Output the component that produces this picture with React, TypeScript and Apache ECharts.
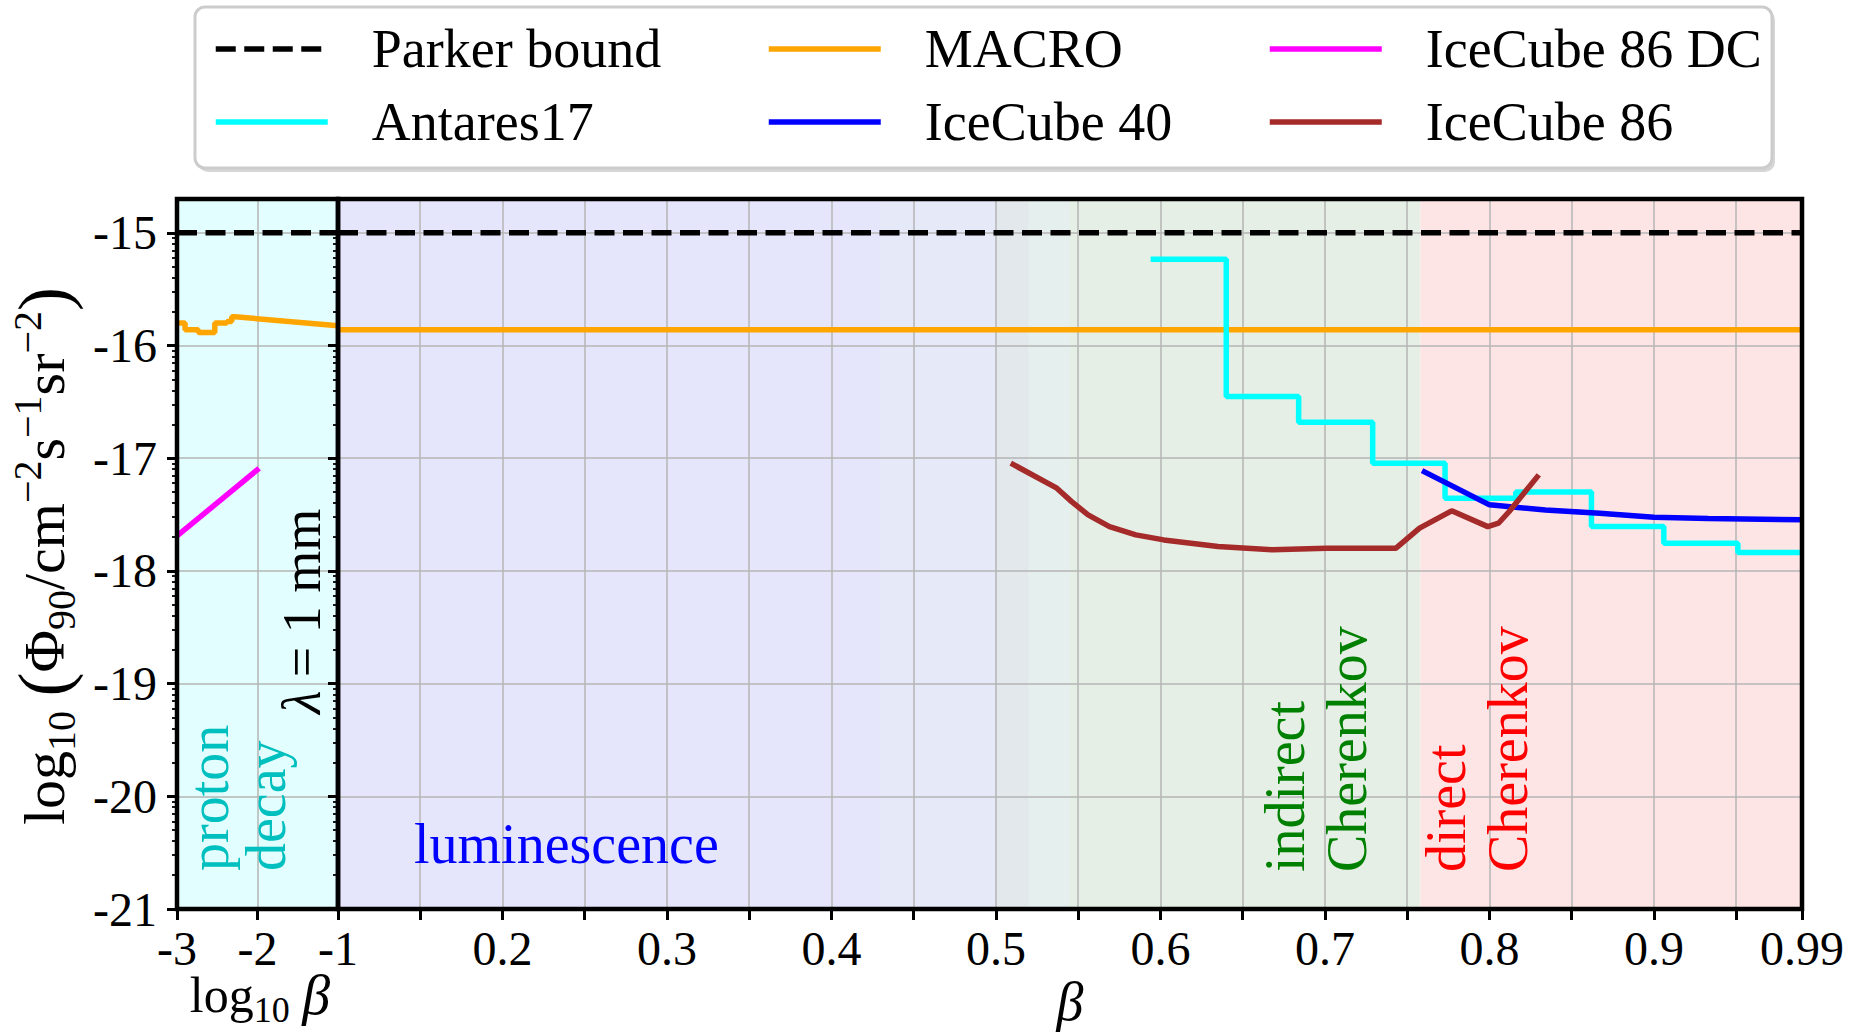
import React, { useEffect, useRef } from 'react';
import * as echarts from 'echarts';

const FONT = 'Liberation Serif';
const FONT_CSS = '#root svg text, #root svg tspan { font-family: "Liberation Serif", serif !important; }';

// ---- axes ----
const Y_MIN = -21;
const Y_MAX = -14.7;
const Y_TICKS = [-21, -20, -19, -18, -17, -16, -15];
const Y_MINOR_FACTORS = [2, 3, 4, 5, 6, 7, 8, 9];
const LOG_X_MIN = -3;
const LOG_X_MAX = -1;
const LOG_X_TICKS = [-3, -2, -1];
const BETA_MIN = 0.1;
const BETA_MAX = 0.99;
const BETA_TICKS = [0.1, 0.15, 0.2, 0.25, 0.3, 0.35, 0.4, 0.45, 0.5, 0.55, 0.6, 0.65, 0.7, 0.75, 0.8, 0.85, 0.9, 0.95, 0.99];
const BETA_LABELS = [0.2, 0.3, 0.4, 0.5, 0.6, 0.7, 0.8, 0.9, 0.99];

// ---- detection regions (shaded backgrounds) ----
const LOG_REGION_STARTS = [-3];
const LOG_REGION_ENDS = [-1];
const BETA_REGION_STARTS = [0.1, 0.43, 0.5, 0.52, 0.545, 0.758];
const BETA_REGION_ENDS = [0.43, 0.5, 0.52, 0.545, 0.758, 0.99];

// ---- series ----
const PARKER_LEVEL = -15;
const PARKER_LOG_X = [-3, -1];
const PARKER_BETA_X = [0.1, 0.99];

const MACRO_LOG_X = [-3, -2.9, -2.9, -2.735, -2.735, -2.53, -2.53, -2.38, -2.38, -2.32, -2.32, -2.28, -1];
const MACRO_LOG_Y = [-15.8, -15.8, -15.86, -15.86, -15.885, -15.885, -15.8, -15.8, -15.787, -15.787, -15.745, -15.745, -15.825];
const MACRO_BETA_X = [0.1, 0.99];
const MACRO_BETA_Y = [-15.86, -15.86];

const IC86DC_X = [-3, -1.98];
const IC86DC_Y = [-17.69, -17.09];

const ANTARES_X = [0.594, 0.64, 0.684, 0.729, 0.773, 0.816, 0.862, 0.906, 0.951, 0.99];
const ANTARES_Y = [-15.234, -16.453, -16.68, -17.044, -17.355, -17.3, -17.607, -17.754, -17.837, -17.837];

const IC40_X = [0.759, 0.8, 0.834, 0.867, 0.9, 0.933, 0.99];
const IC40_Y = [-17.11, -17.414, -17.459, -17.488, -17.524, -17.535, -17.547];

const IC86_X = [0.509, 0.537, 0.546, 0.556, 0.569, 0.585, 0.602, 0.635, 0.668, 0.701, 0.743, 0.7575, 0.777, 0.799, 0.8055, 0.812, 0.83];
const IC86_Y = [-17.044, -17.266, -17.385, -17.503, -17.607, -17.68, -17.725, -17.784, -17.813, -17.8, -17.8, -17.621, -17.467, -17.607, -17.577, -17.473, -17.148];

// ---- styles ----
const LOG_REGION_COLORS = ['#e3fefe'];
const BETA_REGION_COLORS = ['#e5e5fc', '#e5e9f8', '#e3e8ec', '#e5efee', '#e5efe5', '#fee5e5'];
const GRID_LINE = '#b4b4b4';
const LINE_W = 5.5;

const zip = (xs: number[], ys: number[]) => xs.map((x, i) => [x, ys[i]]);

function minorTicks(): number[] {
  const out: number[] = [];
  Y_TICKS.forEach((n) => {
    Y_MINOR_FACTORS.forEach((k) => {
      const v = n + Math.log10(k);
      if (v > Y_MIN && v < Y_MAX) out.push(v);
    });
  });
  return out;
}

function bandSeries(xAxisIndex: number, yAxisIndex: number, starts: number[], ends: number[], colors: string[]) {
  return {
    type: 'custom',
    xAxisIndex,
    yAxisIndex,
    z: 1,
    silent: true,
    data: starts.map((s, i) => [s, ends[i], i]),
    encode: { x: [0, 1] },
    renderItem: (params: any, api: any) => {
      const x0 = api.coord([api.value(0), Y_MAX])[0];
      const x1 = api.coord([api.value(1), Y_MAX])[0];
      const cs = params.coordSys;
      return {
        type: 'rect',
        shape: { x: x0, y: cs.y, width: x1 - x0, height: cs.height },
        style: { fill: colors[api.value(2)] },
      };
    },
  };
}

function lineSeries(name: string, xAxisIndex: number, yAxisIndex: number, data: number[][], color: string, extra: any = {}) {
  return {
    type: 'line',
    name,
    xAxisIndex,
    yAxisIndex,
    data,
    symbol: 'none',
    showSymbol: false,
    z: 3,
    silent: true,
    lineStyle: { color, width: LINE_W, ...(extra.lineStyle || {}) },
    itemStyle: { color },
    emphasis: { disabled: true },
    ...(extra.step ? { step: extra.step } : {}),
  };
}

function App() {
  const ref = useRef<HTMLDivElement>(null);

  useEffect(() => {
    document.body.style.margin = '0';
    if (!ref.current) return;
    const chart = echarts.init(ref.current, undefined, { renderer: 'svg' });

    const tickRich = { t: { fontFamily: FONT, fontSize: 48, color: '#000', fontStyle: 'normal', fontWeight: 'normal' } };
    const tickLabel = { fontFamily: FONT, fontSize: 48, color: '#000', rich: tickRich, formatter: (v: number) => `{t|${v}}` };
    const splitLine = { show: true, lineStyle: { color: GRID_LINE, width: 1.5 } };
    const MINOR = minorTicks();

    const yMain = (gridIndex: number, showLabel: boolean) => ({
      type: 'value',
      gridIndex,
      min: Y_MIN,
      max: Y_MAX,
      position: 'left',
      z: 2,
      axisLine: { show: false },
      axisTick: { show: true, inside: false, length: 10, customValues: Y_TICKS, lineStyle: { color: '#000', width: 3 } },
      axisLabel: { show: showLabel, customValues: Y_TICKS, margin: 20, ...tickLabel },
      splitLine,
    });
    const yMinor = (gridIndex: number) => ({
      type: 'value',
      gridIndex,
      min: Y_MIN,
      max: Y_MAX,
      position: 'left',
      offset: 0,
      z: 2,
      axisLine: { show: false },
      axisTick: { show: true, inside: false, length: 5, customValues: MINOR, lineStyle: { color: '#000', width: 1.8 } },
      axisLabel: { show: false },
      splitLine: { show: false },
    });

    const legendBase = {
      orient: 'vertical',
      top: 22,
      padding: 0,
      itemWidth: 112,
      itemHeight: 14,
      itemGap: 19,
      selectedMode: false,
      z: 5,
      itemStyle: { opacity: 0, borderWidth: 0 },
      lineStyle: { width: 5.5 },
      formatter: (name: string) => `{t|${name}}`,
      textStyle: {
        fontFamily: FONT,
        fontSize: 54,
        color: '#000',
        rich: { t: { fontFamily: FONT, fontSize: 54, color: '#000', fontStyle: 'normal', fontWeight: 'normal', padding: [0, 0, 0, 39] } },
      },
    };

    const rot = Math.PI / 2;
    const annot = (text: string, x: number, y: number, color: string, size = 56, rotation = rot, align = 'left', rich?: any) => ({
      type: 'text',
      x,
      y,
      rotation,
      z: 10,
      silent: true,
      style: {
        text,
        fill: color,
        fontFamily: FONT,
        fontSize: size,
        align,
        verticalAlign: 'middle',
        ...(rich ? { rich } : {}),
      },
    });

    const yLabelRich = {
      n: { fontFamily: FONT, fontSize: 58, verticalAlign: 'middle' },
      s: { fontFamily: FONT, fontSize: 40, verticalAlign: 'middle', padding: [34, 0, 0, 0] },
      u: { fontFamily: FONT, fontSize: 40, verticalAlign: 'middle', padding: [0, 0, 34, 0] },
      p: { fontFamily: FONT, fontSize: 72, verticalAlign: 'middle' },
    };
    const xLabelRich = {
      n: { fontFamily: FONT, fontSize: 50, verticalAlign: 'middle' },
      s: { fontFamily: FONT, fontSize: 36, verticalAlign: 'middle', padding: [30, 0, 0, 0] },
      b: { fontFamily: FONT, fontSize: 56, fontStyle: 'italic', verticalAlign: 'middle' },
    };
    const lambdaRich = {
      i: { fontFamily: FONT, fontSize: 54, fontStyle: 'italic', verticalAlign: 'middle' },
      n: { fontFamily: FONT, fontSize: 54, verticalAlign: 'middle' },
    };
    const betaRich = { b: { fontFamily: FONT, fontSize: 54, fontStyle: 'italic', verticalAlign: 'middle' } };

    const option: any = {
      animation: false,
      backgroundColor: '#ffffff',
      textStyle: { fontFamily: FONT },
      grid: [
        { left: 177, top: 199, width: 161, height: 710, show: true, z: 4, borderColor: '#000', borderWidth: 4.5, backgroundColor: 'rgba(0,0,0,0)', containLabel: false, outerBoundsMode: 'none' },
        { left: 338, top: 199, width: 1464, height: 710, show: true, z: 4, borderColor: '#000', borderWidth: 4.5, backgroundColor: 'rgba(0,0,0,0)', containLabel: false, outerBoundsMode: 'none' },
      ],
      xAxis: [
        {
          type: 'value',
          gridIndex: 0,
          min: LOG_X_MIN,
          max: LOG_X_MAX,
          z: 2,
          axisLine: { show: false },
          axisTick: { show: true, inside: false, length: 11, customValues: LOG_X_TICKS, lineStyle: { color: '#000', width: 3 } },
          axisLabel: { ...tickLabel, margin: 15, customValues: LOG_X_TICKS },
          splitLine,
        },
        {
          type: 'value',
          gridIndex: 1,
          min: BETA_MIN,
          max: BETA_MAX,
          z: 2,
          axisLine: { show: false },
          axisTick: { show: true, inside: false, length: 11, customValues: BETA_TICKS, lineStyle: { color: '#000', width: 3 } },
          axisLabel: { ...tickLabel, margin: 15, customValues: BETA_LABELS },
          splitLine,
        },
      ],
      yAxis: [yMain(0, true), yMinor(0), yMain(1, false), yMinor(1)],
      legend: [
        { ...legendBase, left: 213, data: ['Parker bound', 'Antares17'] },
        { ...legendBase, left: 766, data: ['MACRO', 'IceCube 40'] },
        { ...legendBase, left: 1267, data: ['IceCube 86 DC', 'IceCube 86'] },
      ],
      series: [
        bandSeries(0, 0, LOG_REGION_STARTS, LOG_REGION_ENDS, LOG_REGION_COLORS),
        bandSeries(1, 2, BETA_REGION_STARTS, BETA_REGION_ENDS, BETA_REGION_COLORS),
        lineSeries('Parker bound', 0, 0, PARKER_LOG_X.map((x) => [x, PARKER_LEVEL]), '#000000', { lineStyle: { type: [20, 8.5], cap: 'butt', width: 5.5 } }),
        lineSeries('Parker bound', 1, 2, PARKER_BETA_X.map((x) => [x, PARKER_LEVEL]), '#000000', { lineStyle: { type: [20, 8.5], cap: 'butt', width: 5.5 } }),
        lineSeries('MACRO', 0, 0, zip(MACRO_LOG_X, MACRO_LOG_Y), '#ffa500'),
        lineSeries('MACRO', 1, 2, zip(MACRO_BETA_X, MACRO_BETA_Y), '#ffa500'),
        lineSeries('IceCube 86 DC', 0, 0, zip(IC86DC_X, IC86DC_Y), '#ff00ff'),
        lineSeries('Antares17', 1, 2, zip(ANTARES_X, ANTARES_Y), '#00ffff', { step: 'end' }),
        lineSeries('IceCube 40', 1, 2, zip(IC40_X, IC40_Y), '#0000ff'),
        lineSeries('IceCube 86', 1, 2, zip(IC86_X, IC86_Y), '#a52a2a'),
      ],
      graphic: [
        { type: 'rect', z: 0, silent: true, shape: { x: 198, y: 10, width: 1577, height: 162, r: 10 }, style: { fill: '#d6d6d6' } },
        { type: 'rect', z: 0, silent: true, shape: { x: 195, y: 7, width: 1577, height: 161, r: 10 }, style: { fill: '#ffffff', stroke: '#cccccc', lineWidth: 3 } },
        annot('{n|log}{s|10}{n| }{p|(}{n|Φ}{s|90}{n|/cm}{u|−2}{n|s}{u|−1}{n|sr}{u|−2}{p|)}', 44, 556, '#000', 58, rot, 'center', yLabelRich),
        annot('{n|log}{s|10}{n| }{b|β}', 260, 995, '#000', 50, 0, 'center', xLabelRich),
        annot('{b|β}', 1070, 1002, '#000', 54, 0, 'center', betaRich),
        annot('luminescence', 414, 844, '#0000ff', 56, 0, 'left'),
        annot('proton', 209, 871, '#00bfbf', 56),
        annot('decay', 266, 871, '#00bfbf', 56),
        annot('{i|λ}{n| = 1 mm}', 302, 714, '#000', 54, rot, 'left', lambdaRich),
        annot('indirect', 1285, 872, '#008000', 56),
        annot('Cherenkov', 1347, 872, '#008000', 56),
        annot('direct', 1446, 872, '#ff0000', 56),
        annot('Cherenkov', 1508, 872, '#ff0000', 56),
      ],
    };

    chart.setOption(option);
    return () => chart.dispose();
  }, []);

  return (
    <>
      <style>{FONT_CSS}</style>
      <div ref={ref} style={{ width: 1854, height: 1033, position: 'absolute', left: 0, top: 0 }} />
    </>
  );
}

export default App;
